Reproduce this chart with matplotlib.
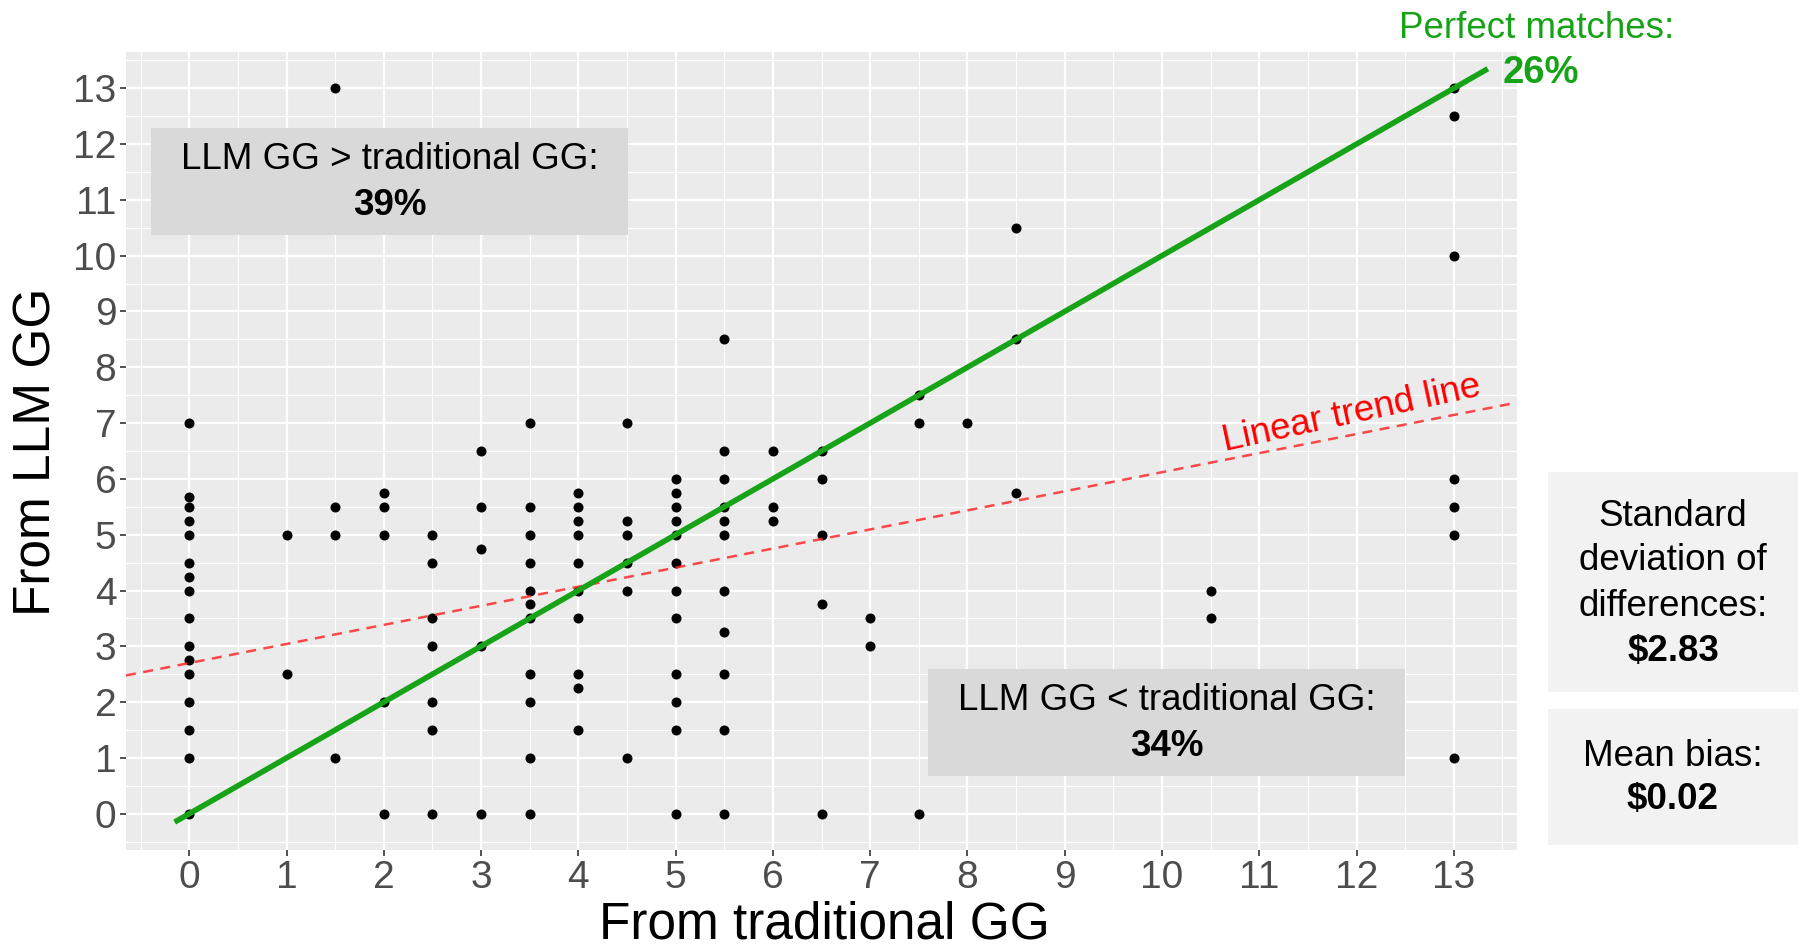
import numpy as np
import matplotlib
matplotlib.use("Agg")
import matplotlib.pyplot as plt
from matplotlib.patches import Rectangle

# ---- data: one column of LLM values per traditional value ----
trad_values = [0, 1, 1.5, 2, 2.5, 3, 3.5, 4, 4.5, 5, 5.5, 6, 6.5, 7, 7.5, 8, 8.5, 10.5, 13]
llm_by_trad = [
    [7, 5.67, 5.5, 5.25, 5, 4.5, 4.25, 4, 3.5, 3, 2.75, 2.5, 2, 1.5, 1, 0],
    [5, 2.5],
    [13, 5.5, 5, 1],
    [5.75, 5.5, 5, 2, 0],
    [5, 4.5, 3.5, 3, 2, 1.5, 0],
    [6.5, 5.5, 4.75, 3, 0],
    [7, 5.5, 5, 4.5, 4, 3.75, 3.5, 2.5, 2, 1, 0],
    [5.75, 5.5, 5.25, 5, 4.5, 4, 3.5, 2.5, 2.25, 1.5],
    [7, 5.25, 5, 4.5, 4, 1],
    [6, 5.75, 5.5, 5.25, 5, 4.5, 4, 3.5, 2.5, 2, 1.5, 0],
    [8.5, 6.5, 6, 5.5, 5.25, 5, 4, 3.25, 2.5, 1.5, 0],
    [6.5, 5.5, 5.25],
    [6.5, 6, 5, 3.75, 0],
    [3.5, 3],
    [7.5, 7, 0],
    [7],
    [10.5, 8.5, 5.75],
    [4, 3.5],
    [13, 12.5, 10, 6, 5.5, 5, 1],
]

trend_intercept = 2.70
trend_slope = 0.342
perfect_span = [-0.15, 13.35]

pct_llm_higher = "39%"
pct_llm_lower = "34%"
pct_perfect = "26%"
sd_diff = "$2.83"
mean_bias = "$0.02"

ticks = list(range(0, 14))

GREEN = "#17a317"
FONT = ["Liberation Sans", "DejaVu Sans"]
plt.rcParams["font.family"] = FONT
TXT = 26.5

# ---- expand columns into points ----
xs, ys = [], []
for x, col in zip(trad_values, llm_by_trad):
    for y in col:
        xs.append(x)
        ys.append(y)
xs = np.array(xs)
ys = np.array(ys)

W, H = 1801, 950
fig = plt.figure(figsize=(W / 100, H / 100), dpi=100)
ax = fig.add_axes([126 / W, 1 - 850 / H, (1517 - 126) / W, (850 - 52) / H])

ax.set_facecolor("#ebebeb")
for s in ax.spines.values():
    s.set_visible(False)
ax.set_xlim(-0.65, 13.65)
ax.set_ylim(-0.65, 13.65)
ax.set_xticks(ticks)
ax.set_yticks(ticks)
ax.set_xticks(np.arange(-0.5, 14, 1), minor=True)
ax.set_yticks(np.arange(-0.5, 14, 1), minor=True)
ax.grid(which="major", color="white", lw=1.6)
ax.grid(which="minor", color="white", lw=0.8)
ax.set_axisbelow(True)
ax.tick_params(which="major", length=4, width=1.2, color="#333333",
               labelcolor="#4d4d4d", labelsize=28, pad=3)
ax.tick_params(which="minor", length=0)

# points
ax.scatter(xs, ys, s=52, color="black", zorder=2, linewidths=0)

# linear trend (dashed red) across the panel
tx = np.array(ax.get_xlim())
ax.plot(tx, trend_intercept + trend_slope * tx, color="#ff2a2a", lw=1.8,
        ls=(0, (4, 3)), zorder=3, alpha=0.85)

# perfect matches line y = x
ax.plot(perfect_span, perfect_span, color=GREEN, lw=4, zorder=4,
        solid_capstyle="butt", clip_on=False)

ax.text(11.95, trend_intercept + trend_slope * 11.95 + 0.38, "Linear trend line",
        color="red", fontsize=TXT, rotation=12.2, ha="center", va="center",
        zorder=5)

# in-panel boxes
ax.add_patch(Rectangle((-0.39, 10.37), 4.9, 1.91, facecolor="#d9d9d9",
                       edgecolor="none", zorder=5))
ax.text(2.06, 11.72, "LLM GG > traditional GG:", fontsize=TXT, ha="center",
        va="center", zorder=6)
ax.text(2.06, 10.9, pct_llm_higher, fontsize=TXT, fontweight="bold",
        ha="center", va="center", zorder=6)

ax.add_patch(Rectangle((7.6, 0.68), 4.9, 1.91, facecolor="#d9d9d9",
                       edgecolor="none", zorder=5))
ax.text(10.05, 2.03, "LLM GG < traditional GG:", fontsize=TXT, ha="center",
        va="center", zorder=6)
ax.text(10.05, 1.21, pct_llm_lower, fontsize=TXT, fontweight="bold",
        ha="center", va="center", zorder=6)

# axis titles
fig.text(824 / W, 1 - 925 / H, "From traditional GG", fontsize=37,
         ha="center", va="center")
fig.text(37 / W, 1 - 452 / H, "From LLM GG", fontsize=37, rotation=90,
         ha="center", va="center")

# perfect matches label
fig.text(1537 / W, 1 - 29 / H, "Perfect matches:", fontsize=TXT, color=GREEN,
         ha="center", va="center")
fig.text(1503 / W, 1 - 73 / H, pct_perfect, fontsize=27.5, color=GREEN,
         fontweight="bold", ha="left", va="center")

# right-hand stat boxes
fig.patches.append(Rectangle((1548 / W, 1 - 692 / H), 250 / W, 220 / H,
                             transform=fig.transFigure, facecolor="#f2f2f2",
                             edgecolor="none"))
fig.patches.append(Rectangle((1548 / W, 1 - 845 / H), 250 / W, 136 / H,
                             transform=fig.transFigure, facecolor="#f2f2f2",
                             edgecolor="none"))
for i, line in enumerate(["Standard", "deviation of", "differences:"]):
    fig.text(1673 / W, 1 - (516 + 45 * i) / H, line, fontsize=TXT,
             ha="center", va="center")
fig.text(1673 / W, 1 - 651 / H, sd_diff, fontsize=TXT, fontweight="bold",
         ha="center", va="center")
fig.text(1673 / W, 1 - 756 / H, "Mean bias:", fontsize=TXT,
         ha="center", va="center")
fig.text(1673 / W, 1 - 800 / H, mean_bias, fontsize=TXT, fontweight="bold",
         ha="center", va="center")

fig.savefig("out.png", dpi=100, facecolor="white")
